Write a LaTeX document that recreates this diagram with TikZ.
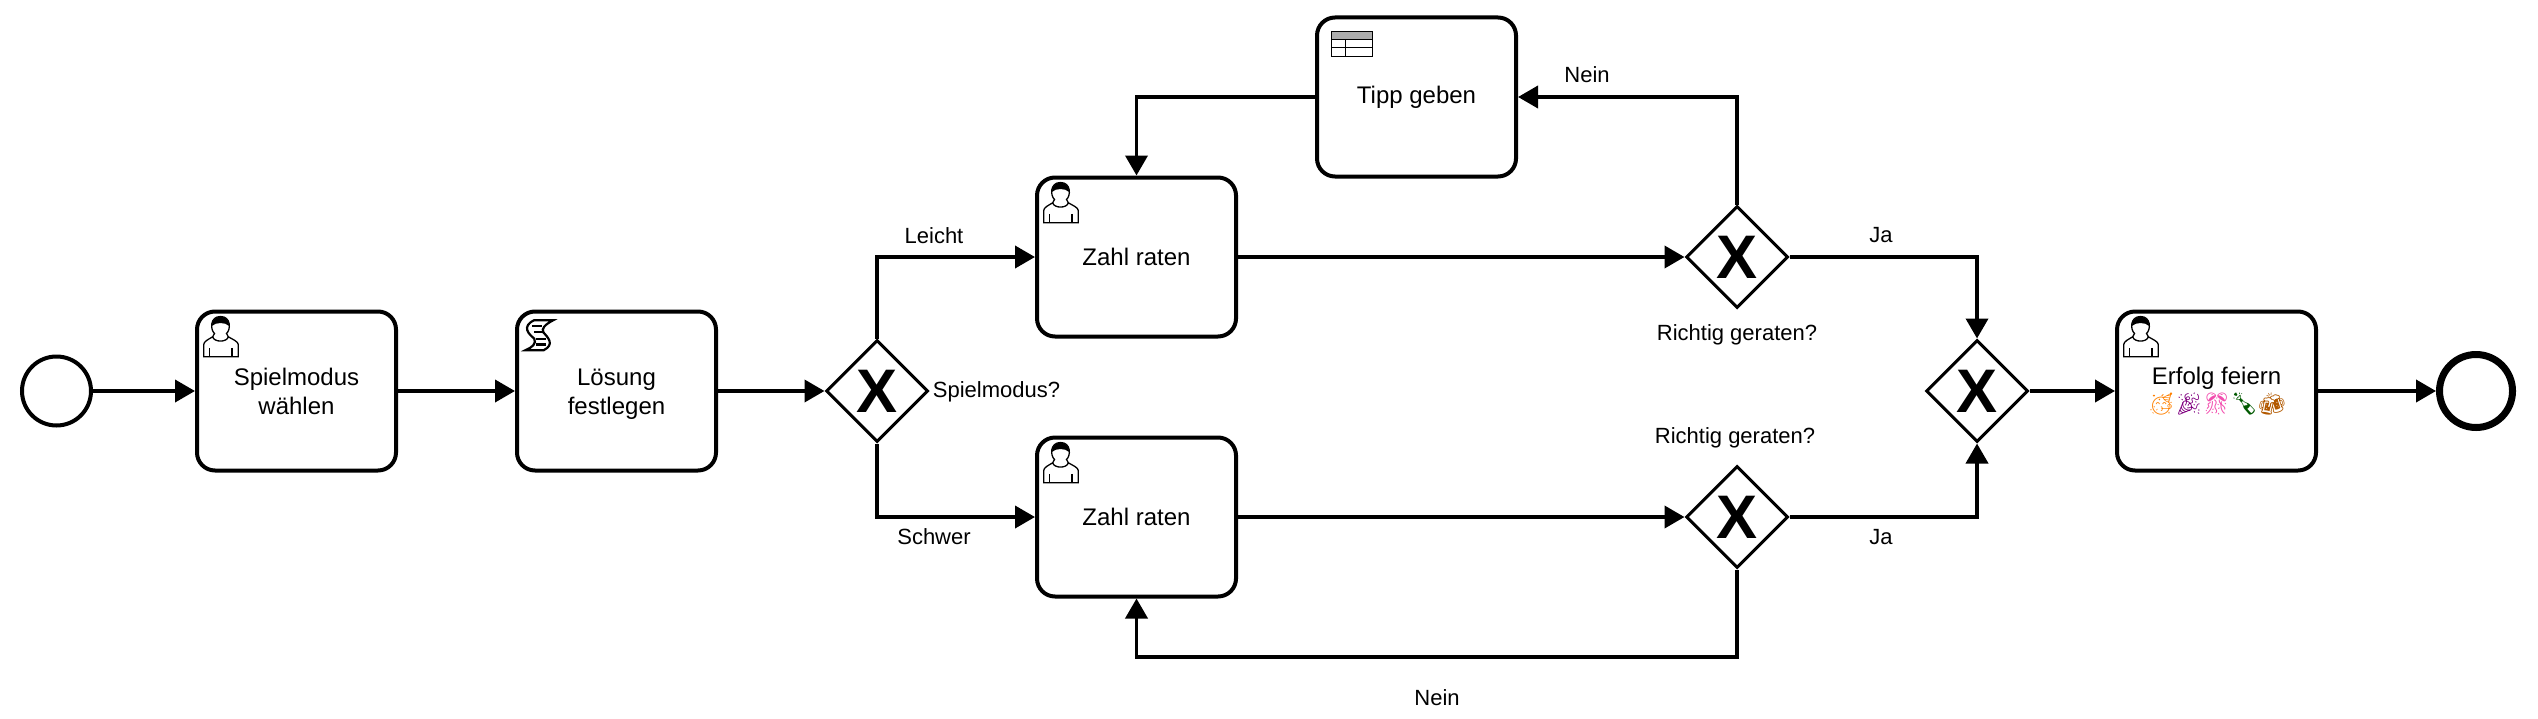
\documentclass[tikz,border=0pt]{standalone}
\usepackage{fontspec}
\setmainfont{Liberation Sans}
\newfontfamily\emojifont{Noto Emoji}
\usetikzlibrary{arrows.meta, shapes.geometric}
\tikzset{
  taskbox/.style={draw, line width=0.04cm, rounded corners=0.18cm, minimum width=1.99cm, minimum height=1.59cm, inner sep=0pt, align=center, font=\fontsize{6.83}{8.25}\selectfont},
  gatebox/.style={draw, diamond, aspect=1, line width=0.03cm, minimum width=1.02cm, minimum height=1.02cm, inner sep=0pt, font=\fontsize{17.5}{17.5}\selectfont\bfseries},
  startbox/.style={draw, circle, line width=0.04cm, minimum size=0.69cm, inner sep=0pt},
  endbox/.style={draw, circle, line width=0.07cm, minimum size=0.73cm, inner sep=0pt},
  flowlabel/.style={inner sep=0pt, font=\fontsize{6.26}{7.5}\selectfont},
  flow/.style={line width=0.038cm, -{Triangle[length=0.2cm, width=0.22cm]}},
  usericon/.pic={
    \draw[line width=0.013cm] (0.087,-0.473) -- (0.087,-0.35) .. controls (0.09,-0.32) and (0.13,-0.30) .. (0.177,-0.273) .. controls (0.19,-0.33) and (0.32,-0.33) .. (0.333,-0.273) .. controls (0.38,-0.30) and (0.43,-0.32) .. (0.433,-0.35) -- (0.433,-0.473) -- cycle;
    \draw[line width=0.013cm] (0.143,-0.383) -- (0.143,-0.473);   % left arm
    \draw[line width=0.013cm] (0.37,-0.383) -- (0.37,-0.473);   % right arm
    \draw[line width=0.013cm] (0.177,-0.273) .. controls (0.185,-0.25) and (0.195,-0.245) .. (0.195,-0.24) .. controls (0.15,-0.20) and (0.15,-0.07) .. (0.255,-0.07) .. controls (0.36,-0.07) and (0.36,-0.20) .. (0.315,-0.24) .. controls (0.315,-0.245) and (0.325,-0.25) .. (0.333,-0.273);   % head
    \fill (0.168,-0.165) .. controls (0.17,-0.04) and (0.34,-0.04) .. (0.342,-0.165) .. controls (0.30,-0.125) and (0.21,-0.125) .. (0.168,-0.165) -- cycle;   % hair
  },
  scripticon/.pic={
    \draw[line width=0.022cm] (0.192,-0.107) -- (0.383,-0.107) .. controls (0.30,-0.15) and (0.26,-0.19) .. (0.285,-0.23) .. controls (0.33,-0.28) and (0.40,-0.35) .. (0.287,-0.407) -- (0.105,-0.407) .. controls (0.17,-0.38) and (0.22,-0.34) .. (0.192,-0.29) .. controls (0.14,-0.25) and (0.06,-0.17) .. (0.192,-0.107) -- cycle;
    \draw[line width=0.022cm] (0.17,-0.167) -- (0.27,-0.167);
    \draw[line width=0.022cm] (0.19,-0.227) -- (0.28,-0.227);
    \draw[line width=0.022cm] (0.21,-0.293) -- (0.31,-0.293);
    \draw[line width=0.022cm] (0.21,-0.35) -- (0.31,-0.35);
  },
  tableicon/.pic={
    \fill[gray!65] (0.167,-0.157) rectangle (0.577,-0.24);   % header
    \draw[line width=0.013cm] (0.167,-0.157) rectangle (0.577,-0.407);
    \draw[line width=0.013cm] (0.167,-0.24) -- (0.577,-0.24);
    \draw[line width=0.013cm] (0.167,-0.323) -- (0.577,-0.323);
    \draw[line width=0.013cm] (0.303,-0.24) -- (0.303,-0.407);
  }
}
\begin{document}
\begin{tikzpicture}[x=1cm, y=1cm]
  \useasboundingbox (0,0) rectangle (25.38,7.18);
  %
  \node[startbox] (start) at (0.565,3.27) {};
  \node[taskbox] (modus) at (2.965,3.27) {Spielmodus\\wählen};
  \node[taskbox, text depth=0pt] (loesung) at (6.165,3.27) {\raisebox{-0.4pt}{Lösung}\\\raisebox{-0.4pt}{festlegen}};
  \node[gatebox] (gatemodus) at (8.77,3.27) {X};
  \node[taskbox] (leicht) at (11.365,4.61) {Zahl raten};   % upper branch
  \node[taskbox] (schwer) at (11.365,2.01) {Zahl raten};   % lower branch
  \node[taskbox] (tipp) at (14.165,6.21) {\raisebox{-0.3pt}{Tipp geben}};
  \node[gatebox] (gateleicht) at (17.37,4.61) {X};
  \node[gatebox] (gateschwer) at (17.37,2.01) {X};
  \node[gatebox] (gatemerge) at (19.77,3.27) {X};
  \node[taskbox] (feiern) at (22.165,3.27) {Erfolg feiern\\[-0.6pt]{\emojifont\fontsize{6.2}{7}\selectfont\textcolor{orange}{🥳}\textcolor{violet}{🎉}\textcolor{magenta!70}{🎊}\textcolor{green!35!black}{🍾}\textcolor{orange!70!black}{🍻}}};
  \node[endbox] (end) at (24.76,3.27) {};
  \coordinate (back) at (11.365,0.61);
  %
  \pic at (modus.north west) {usericon};
  \pic at (loesung.north west) {scripticon};
  \pic at (leicht.north west) {usericon};
  \pic at (schwer.north west) {usericon};
  \pic at (tipp.north west) {tableicon};
  \pic at (feiern.north west) {usericon};
  %
  \draw[flow] (start) -- (modus);
  \draw[flow] (modus) -- (loesung);
  \draw[flow] (loesung) -- (gatemodus);
  \draw[flow] (gatemodus.north) |- (leicht.west);
  \draw[flow] (gatemodus.south) |- (schwer.west);
  \draw[flow] (leicht) -- (gateleicht);
  \draw[flow] (schwer) -- (gateschwer);
  \draw[flow] (gateleicht.north) |- (tipp.east);
  \draw[flow] (tipp.west) -| (leicht.north);
  \draw[flow] (gateleicht.east) -| (gatemerge.north);
  \draw[flow] (gateschwer.east) -| (gatemerge.south);
  \draw[flow] (gateschwer.south) |- (back) -- (schwer.south);
  \draw[flow] (gatemerge) -- (feiern);
  \draw[flow] (feiern) -- (end);
  %
  \node[flowlabel] (lblmodus) at (9.965,3.265) {Spielmodus?};
  \node[flowlabel] (lblleicht) at (9.34,4.82) {Leicht};
  \node[flowlabel] (lblschwer) at (9.34,1.81) {Schwer};
  \node[flowlabel] (lblnein) at (15.87,6.435) {Nein};
  \node[flowlabel] (lbljaoben) at (18.81,4.83) {Ja};
  \node[flowlabel] (lbljaunten) at (18.81,1.81) {Ja};
  \node[flowlabel] (lblfrageoben) at (17.37,3.83) {Richtig geraten?};
  \node[flowlabel] (lblfrageunten) at (17.35,2.80) {Richtig geraten?};
  \node[flowlabel] (lblneinunten) at (14.37,0.205) {Nein};
\end{tikzpicture}
\end{document}
